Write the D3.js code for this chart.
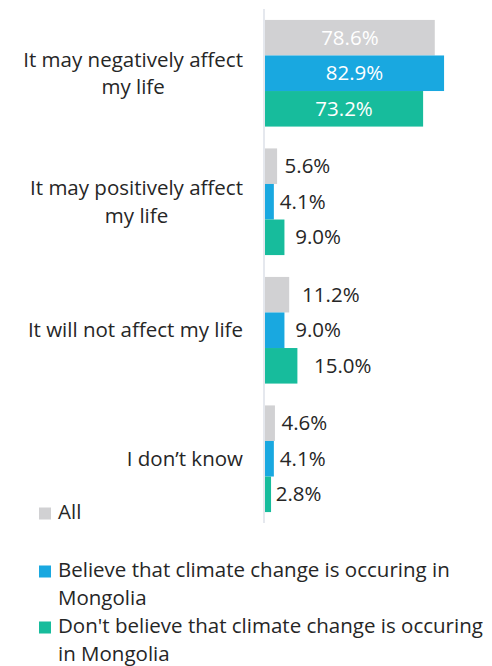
<!DOCTYPE html>
<html>
<head>
<meta charset="utf-8">
<script src="https://cdn.jsdelivr.net/npm/d3@7"></script>
<style>
  html, body { margin: 0; padding: 0; background: #ffffff; }
  svg { display: block; }
  text { font-family: "Open Sans", "Noto Sans", sans-serif; fill: #262626; }
</style>
</head>
<body>
<svg id="chart" width="492" height="666"></svg>
<script>
// ---- data ----
const categories = [
  ["It may negatively affect", "my life"],
  ["It may positively affect", "my life"],
  ["It will not affect my life"],
  ["I don\u2019t know"]
];
const seriesNames = [
  "All",
  "Believe that climate change is occuring in Mongolia",
  "Don't believe that climate change is occuring in Mongolia"
];
const allValues = [78.6, 5.6, 11.2, 4.6];
const believeValues = [82.9, 4.1, 9.0, 4.1];
const dontBelieveValues = [73.2, 9.0, 15.0, 2.8];
const legendLines = [
  ["All"],
  ["Believe that climate change is occuring in", "Mongolia"],
  ["Don't believe that climate change is occuring", "in Mongolia"]
];

// ---- styles ----
const colors = ["#D1D1D3", "#19A8E0", "#17BC9C"];
const svg = d3.select("#chart");

const seriesValues = [allValues, believeValues, dontBelieveValues];
const catIdx = d3.range(categories.length);

const x = d3.scaleLinear().domain([0, 100]).range([265, 481]);
const y = d3.scaleBand().domain(catIdx).range([9, 523]).paddingInner(0.17).paddingOuter(0.085);
const ySub = d3.scaleBand().domain(d3.range(seriesValues.length)).range([0, y.bandwidth()]);

// axis line
svg.append("line")
  .attr("x1", 264).attr("x2", 264)
  .attr("y1", 9).attr("y2", 523)
  .attr("stroke", "#DCE0E8").attr("stroke-width", 1.5);

const rows = [];
catIdx.forEach(ci => {
  seriesValues.forEach((vals, si) => rows.push({ci, si, v: vals[ci]}));
});

svg.append("g").selectAll("rect").data(rows).join("rect")
  .attr("x", x(0))
  .attr("y", d => y(d.ci) + ySub(d.si))
  .attr("width", d => x(d.v) - x(0))
  .attr("height", ySub.bandwidth())
  .attr("fill", d => colors[d.si]);

// value labels
svg.append("g").selectAll("text").data(rows).join("text")
  .attr("x", d => {
    const len = x(d.v) - x(0);
    return d.v > 50 ? x(0) + len / 2 : x(d.v) + 2 + 0.45 * len;
  })
  .attr("y", d => y(d.ci) + ySub(d.si) + ySub.bandwidth() / 2 + 7)
  .attr("text-anchor", d => d.v > 50 ? "middle" : "start")
  .style("fill", d => d.v > 50 ? "#ffffff" : "#262626")
  .style("font-size", "20.5px")
  .text(d => d.v.toFixed(1) + "%");

// category labels
const catG = svg.append("g");
const lineH = 27.5;
categories.forEach((lines, ci) => {
  const cy = y(ci) + y.bandwidth() / 2;
  const t = catG.append("text")
    .style("font-size", "20.5px")
    .attr("text-anchor", "middle");
  lines.forEach((ln, li) => {
    t.append("tspan")
      .attr("x", 0)
      .attr("y", cy + 7 + (li - (lines.length - 1) / 2) * lineH)
      .text(ln);
  });
  // right-align block at 243, center lines within block
  const w = t.node().getBBox().width;
  t.selectAll("tspan").attr("x", 243 - w / 2);
});

// legend
const legendTop = [519, 577, 633];
const legG = svg.append("g");
legendLines.forEach((lines, i) => {
  legG.append("rect")
    .attr("x", 39).attr("y", legendTop[i] - 11.5)
    .attr("width", 12).attr("height", 12)
    .attr("fill", colors[i]);
  const t = legG.append("text").style("font-size", "20.5px");
  lines.forEach((ln, li) => {
    t.append("tspan").attr("x", 58).attr("y", legendTop[i] + li * 27.5).text(ln);
  });
});
</script>
</body>
</html>
